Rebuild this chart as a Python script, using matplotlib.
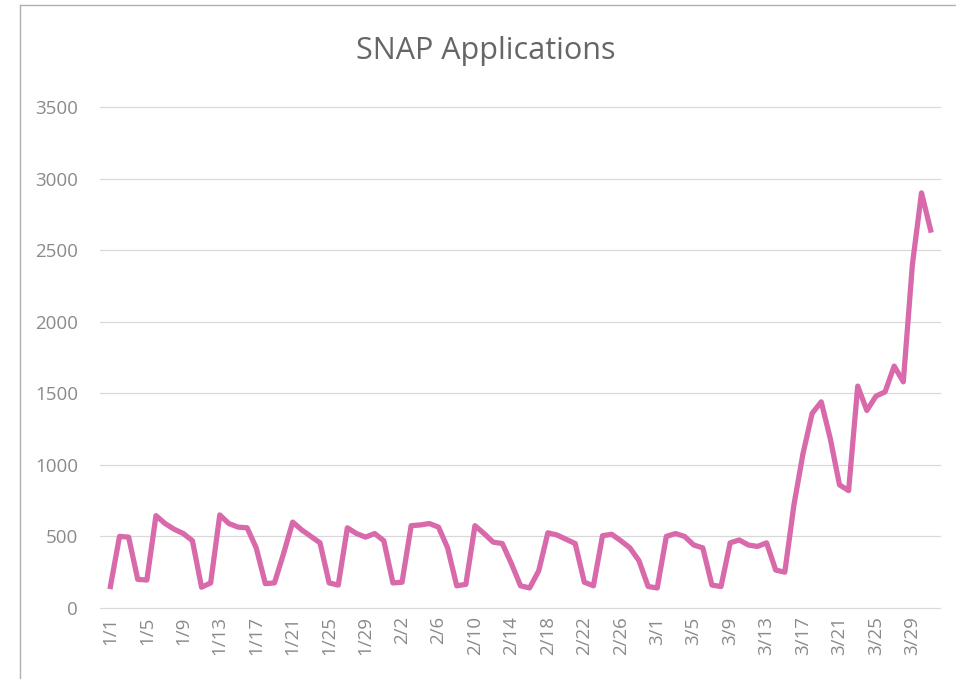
import matplotlib

matplotlib.use("Agg")
import matplotlib.pyplot as plt
from matplotlib.lines import Line2D

# Daily SNAP applications, 1/1 - 3/31 (2020, leap year)
months = [1] * 31 + [2] * 29 + [3] * 31
days = list(range(1, 32)) + list(range(1, 30)) + list(range(1, 32))
date_labels = [f"{m}/{d}" for m, d in zip(months, days)]

applications = [
    150, 500, 495, 200, 195, 645, 590, 550, 520, 470,
    145, 175, 650, 590, 565, 560, 420, 170, 175, 380,
    600, 545, 500, 455, 175, 160, 560, 520, 495, 520,
    470, 175, 180, 575, 580, 590, 565, 420, 155, 165,
    575, 520, 460, 450, 310, 155, 140, 260, 525, 510,
    480, 450, 180, 155, 505, 515, 470, 420, 330, 150,
    140, 500, 520, 500, 440, 420, 160, 150, 455, 475,
    440, 430, 455, 265, 250, 720, 1080, 1360, 1440, 1180,
    860, 820, 1550, 1380, 1480, 1510, 1690, 1580, 2400, 2900,
    2640,
]

y_ticks = [0, 500, 1000, 1500, 2000, 2500, 3000, 3500]

TEXT_GREY = "#8a8a8a"
GRID_GREY = "#d9d9d9"
LINE_COLOR = "#d86aac"

plt.rcParams["font.family"] = ["Open Sans", "DejaVu Sans"]

fig = plt.figure(figsize=(9.56, 6.79), dpi=100, facecolor="white")
ax = fig.add_axes([0.105, 0.1046, 0.878, 0.7378])

x = list(range(len(applications)))
ax.plot(x, applications, color=LINE_COLOR, linewidth=3.8, solid_joinstyle="round")

ax.set_xlim(-1.1, 91.0)
ax.set_ylim(0, 3500)
ax.set_yticks(y_ticks)
ax.set_yticklabels([str(v) for v in y_ticks], color=TEXT_GREY, fontsize=13.5)
ax.set_xticks(x[::4])
ax.set_xticklabels(date_labels[::4], rotation=90, color=TEXT_GREY, fontsize=13.5)
ax.tick_params(axis="y", length=0, pad=16)
ax.tick_params(axis="x", length=0, pad=6)

ax.grid(axis="y", color=GRID_GREY, linewidth=0.9)
for gl in ax.get_ygridlines():
    gl.set_clip_on(False)
ax.set_axisbelow(True)
for spine in ax.spines.values():
    spine.set_visible(False)

fig.text(0.508, 0.925, "SNAP Applications", ha="center", va="center",
         fontsize=22, color="#666666")

# chart area border (left and top edges visible in the scan)
fig.add_artist(Line2D([0.021, 0.021], [0.0, 0.993], color="#b0b0b0", linewidth=1.0))
fig.add_artist(Line2D([0.021, 1.0], [0.993, 0.993], color="#b0b0b0", linewidth=1.0))

fig.savefig("out.png", dpi=100, facecolor="white")
